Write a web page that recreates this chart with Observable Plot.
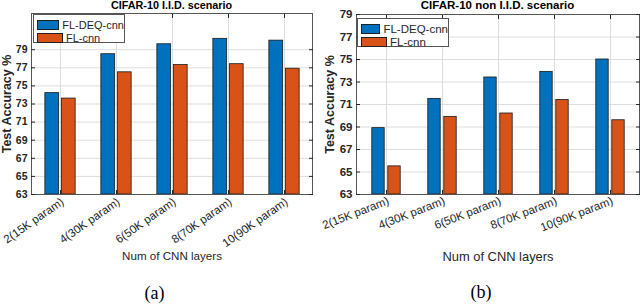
<!DOCTYPE html>
<html>
<head>
<meta charset="utf-8">
<script src="https://cdn.jsdelivr.net/npm/d3@7"></script>
<script src="https://cdn.jsdelivr.net/npm/@observablehq/plot@0.6"></script>
<style>
  html, body { margin: 0; padding: 0; background: #fff; }
  #wrap { position: relative; width: 640px; height: 306px; overflow: hidden; background: #fff; font-family: "Liberation Sans", Arial, sans-serif; color: #262626; }
  .panel { position: absolute; top: 0; }
  .title { position: absolute; font-weight: bold; white-space: nowrap; transform: translateX(-50%); color: #000; }
  .cap { position: absolute; font-family: "Liberation Serif", "Times New Roman", serif; font-size: 18px; transform: translate(-50%, -50%); color: #000; }
  .legend { position: absolute; background: #fff; border: 1px solid #555; box-sizing: border-box; }
  .legend .row { display: flex; align-items: center; white-space: nowrap; }
  .legend .sw { display: inline-block; border: 1px solid #222; box-sizing: border-box; }
</style>
</head>
<body>
<div id="wrap"></div>
<script>
const categories = ["2(15K param)", "4(30K param)", "6(50K param)", "8(70K param)", "10(90K param)"];
const series = ["FL-DEQ-cnn", "FL-cnn"];
const colors = ["#0072BD", "#D95319"];

const iidDEQ = [74.2, 78.5, 79.6, 80.2, 80.0];
const iidCNN = [73.6, 76.5, 77.3, 77.4, 76.9];
const nonDEQ = [68.9, 71.5, 73.4, 73.9, 75.0];
const nonCNN = [65.5, 69.9, 70.2, 71.4, 69.6];

const yTicks = [63, 65, 67, 69, 71, 73, 75, 77, 79];
const iidDomain = [63, 83];
const nonDomain = [63, 79];

const titles = ["CIFAR-10 I.I.D. scenario", "CIFAR-10 non I.I.D. scenario"];
const captions = ["(a)", "(b)"];
const yLabel = "Test Accuracy %";
const xLabel = "Num of CNN layers";

const wrap = document.getElementById("wrap");

function panel(cfg) {
  const {deq, cnn, domain, left, width, height, ml, mr, mt, mb, yfs, xfs, rot, barW, gap, yLabX, yLabF, xLabY, xLabF} = cfg;
  const data = [];
  categories.forEach((c, i) => {
    data.push({cat: c, s: series[0], v: deq[i]});
    data.push({cat: c, s: series[1], v: cnn[i]});
  });
  const bw = (width - ml - mr) / categories.length;
  const grid = "#dedede";
  const chart = Plot.plot({
    width, height,
    marginLeft: ml, marginRight: mr, marginTop: mt, marginBottom: mb,
    style: {fontFamily: "'Liberation Sans', Arial, sans-serif", color: "#262626", background: "transparent", overflow: "visible"},
    x: {domain: categories, padding: 0, label: null},
    y: {domain, label: null},
    color: {domain: series, range: colors},
    marks: [
      Plot.gridY(yTicks, {stroke: grid, strokeOpacity: 1}),
      Plot.gridX({stroke: grid, strokeOpacity: 1}),
      Plot.barY(data.filter(d => d.s === series[0]), {x: "cat", y1: domain[0], y2: "v", fill: "s", stroke: "#1a1a1a", strokeWidth: 0.8,
        insetLeft: bw / 2 - gap / 2 - barW, insetRight: bw / 2 + gap / 2}),
      Plot.barY(data.filter(d => d.s === series[1]), {x: "cat", y1: domain[0], y2: "v", fill: "s", stroke: "#1a1a1a", strokeWidth: 0.8,
        insetLeft: bw / 2 + gap / 2, insetRight: bw / 2 - gap / 2 - barW}),
      Plot.frame({stroke: "#555", strokeWidth: 1}),
      Plot.axisY(yTicks, {anchor: "left", tickSize: -4, tickPadding: 8, fontWeight: "bold", fontSize: yfs, fill: "#262626", label: null}),
      Plot.axisY(yTicks, {anchor: "right", tickSize: -4, tickFormat: () => "", label: null}),
      Plot.axisX({anchor: "bottom", tickSize: -4, text: null, label: null}),
      Plot.text(categories, {x: d => d, frameAnchor: "bottom", dy: 6, dx: 2, rotate: rot, textAnchor: "end", lineAnchor: "middle", fontSize: xfs, fill: "#262626"}),
      Plot.axisX({anchor: "top", tickSize: -4, tickFormat: () => "", label: null}),
      Plot.text([yLabel], {frameAnchor: "left", rotate: -90, dx: yLabX, textAnchor: "middle", lineAnchor: "middle", fontSize: yLabF, fontWeight: "bold", fill: "#262626"}),
      Plot.text([xLabel], {frameAnchor: "bottom", dy: xLabY, fontSize: xLabF, fill: "#262626"})
    ]
  });
  chart.classList.add("panel");
  chart.style.left = left + "px";
  wrap.appendChild(chart);
}

panel({deq: iidDEQ, cnn: iidCNN, domain: iidDomain, left: 0, width: 320, height: 267, ml: 31, mr: 8, mt: 13, mb: 73, yfs: 10.5, xfs: 11.5, rot: -35, barW: 14, gap: 2.5,
  yLabX: -25, yLabF: 12.5, xLabY: 65, xLabF: 11.6});
panel({deq: nonDEQ, cnn: nonCNN, domain: nonDomain, left: 320, width: 320, height: 268, ml: 36, mr: 1, mt: 14, mb: 74, yfs: 11.5, xfs: 11.5, rot: -21, barW: 13, gap: 3,
  yLabX: -27, yLabF: 12.5, xLabY: 66, xLabF: 12.9});

// titles
[[171.5, 0, 10.8], [497.5, 0, 11.5]].forEach(([x, y, f], i) => {
  const d = document.createElement("div");
  d.className = "title";
  d.textContent = titles[i];
  d.style.left = x + "px"; d.style.top = (y - 1) + "px"; d.style.fontSize = f + "px";
  wrap.appendChild(d);
});

// captions
[[154.5, 293], [481, 292]].forEach(([x, y], i) => {
  const d = document.createElement("div");
  d.className = "cap";
  d.textContent = captions[i];
  d.style.left = x + "px"; d.style.top = y + "px";
  wrap.appendChild(d);
});

// legends
[{x: 33, y: 14, w: 92, h: 29, f: 11}, {x: 357, y: 18, w: 92, h: 29, f: 11.5}].forEach((L) => {
  const d = document.createElement("div");
  d.className = "legend";
  d.style.left = L.x + "px"; d.style.top = L.y + "px"; d.style.width = L.w + "px"; d.style.height = L.h + "px";
  d.style.padding = "3px 0 0 3px";
  series.forEach((s, i) => {
    const r = document.createElement("div");
    r.className = "row";
    r.style.height = "13px";
    r.style.fontSize = L.f + "px";
    const sw = document.createElement("span");
    sw.className = "sw";
    sw.style.width = "26px"; sw.style.height = "10px"; sw.style.background = colors[i]; sw.style.marginRight = "3px";
    r.appendChild(sw);
    r.appendChild(document.createTextNode(s));
    d.appendChild(r);
  });
  wrap.appendChild(d);
});
</script>
</body>
</html>
